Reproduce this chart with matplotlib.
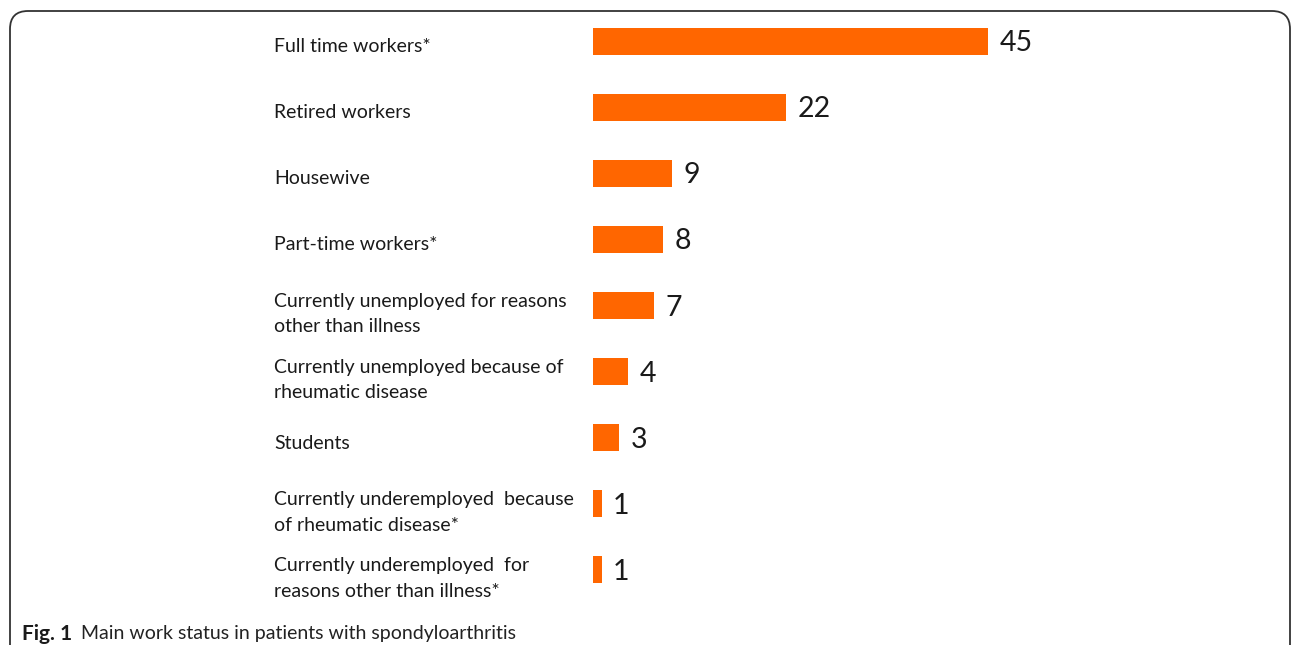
import matplotlib
matplotlib.use("Agg")
import matplotlib.pyplot as plt
from matplotlib.patches import FancyBboxPatch
from matplotlib.transforms import blended_transform_factory

ORANGE = "#FF6600"; INK = "#1a1a1a"

categories = [
    "Full time workers*",
    "Retired workers",
    "Housewive",
    "Part-time workers*",
    "Currently unemployed for reasons\nother than illness",
    "Currently unemployed because of\nrheumatic disease",
    "Students",
    "Currently underemployed  because\nof rheumatic disease*",
    "Currently underemployed  for\nreasons other than illness*",
]
values = [45, 22, 9, 8, 7, 4, 3, 1, 1]

plt.rcParams["font.family"] = ["Lato", "DejaVu Sans"]

W, H = 1292, 645
fig = plt.figure(figsize=(W / 100, H / 100), dpi=100)

# bars axis: x starts at px 593, 45 units ~ 395 px
ax = fig.add_axes([593 / W, 1 - 603 / H, 1 - 593 / W, 595 / H])
ypos = list(range(len(categories)))
ax.barh(ypos, values, height=0.41, color=ORANGE)
ax.set_xlim(0, (W - 593) / 8.78)
ax.set_ylim(len(categories) - 0.5, -0.5)
ax.axis("off")

for y, v in zip(ypos, values):
    ax.annotate(str(v), (v, y), xytext=(8, -1.5), textcoords="offset points",
                va="center", ha="left", fontsize=20.5, color=INK)

lab_tr = blended_transform_factory(fig.transFigure, ax.transData)
for y, lab in zip(ypos, categories):
    dy = 0.13 if "\n" in lab else 0.08
    ax.text(274 / W, y + dy, lab, transform=lab_tr, ha="left", va="center",
            fontsize=14, color=INK, linespacing=1.6, clip_on=False)

# caption
fig.text(22 / W, 1 - 634 / H, "Fig. 1", fontsize=15, fontweight="bold",
         color=INK, va="center", ha="left")
fig.text(81 / W, 1 - 634 / H, "Main work status in patients with spondyloarthritis",
         fontsize=14, color="#222222", va="center", ha="left")

# rounded frame, open at the bottom
frame = FancyBboxPatch((0.10, -0.3), 12.80, 6.64, boxstyle="round,pad=0,rounding_size=0.18",
                       transform=fig.dpi_scale_trans, fill=False, edgecolor="#333333",
                       linewidth=1.3)
fig.add_artist(frame)

fig.savefig("out.png", dpi=100)
